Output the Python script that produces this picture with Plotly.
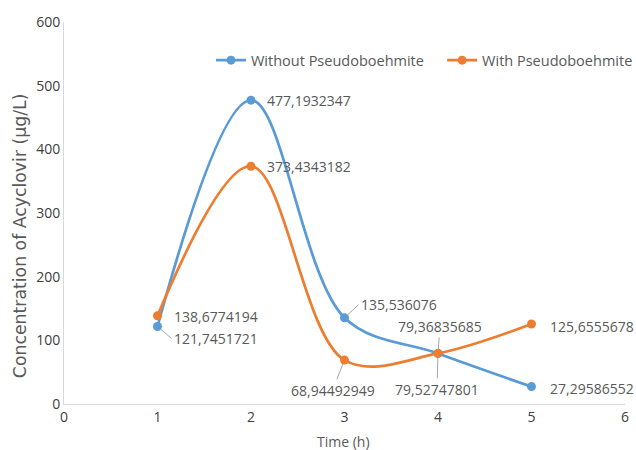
import plotly.graph_objects as go

time_h = [1, 2, 3, 4, 5]
without_pb = [121.7451721, 477.1932347, 135.536076, 79.36835685, 27.29586552]
with_pb = [138.6774194, 373.4343182, 68.94492949, 79.52747801, 125.6555678]
without_labels = ["121,7451721", "477,1932347", "135,536076", "79,36835685", "27,29586552"]
with_labels = ["138,6774194", "373,4343182", "68,94492949", "79,52747801", "125,6555678"]
x_ticks = [0, 1, 2, 3, 4, 5, 6]
y_ticks = [0, 100, 200, 300, 400, 500, 600]

BLUE = "#5B9BD5"
ORANGE = "#ED7D31"
TXT = "#595959"
FONT = "Open Sans"

fig = go.Figure()
fig.add_trace(go.Scatter(x=time_h, y=without_pb, mode="lines+markers", name="Without Pseudoboehmite",
                         line=dict(color=BLUE, width=2.75, shape="spline", smoothing=1.0),
                         marker=dict(size=9, color=BLUE), legend="legend"))
fig.add_trace(go.Scatter(x=time_h, y=with_pb, mode="lines+markers", name="With Pseudoboehmite",
                         line=dict(color=ORANGE, width=2.75, shape="spline", smoothing=1.0),
                         marker=dict(size=9, color=ORANGE), legend="legend2"))

# label placements (pixel offsets), per point
without_place = [(14, 12, True), (14, 0, False), (14, -13, True), (2, -27, True), (16, 2, False)]
with_place = [(14, 1, False), (14, 0, False), (-12, 30, True), (-1, 36, True), (16, 2, False)]

def add_labels(xs, ys, labels, places):
    for x, y, t, (dx, dy, arrow) in zip(xs, ys, labels, places):
        if arrow:
            xa = "left" if dx >= 10 else ("right" if dx <= -20 else "center")
            fig.add_annotation(x=x, y=y, text=t, showarrow=True, arrowhead=0, arrowwidth=1,
                               arrowcolor="#A6A6A6", ax=dx, ay=dy, xanchor=xa, standoff=4,
                               font=dict(family=FONT, size=14, color=TXT))
        else:
            fig.add_annotation(x=x, y=y, text=t, showarrow=False, xanchor="left",
                               xshift=dx, yshift=-dy,
                               font=dict(family=FONT, size=14, color=TXT))

add_labels(time_h, without_pb, without_labels, without_place)
add_labels(time_h, with_pb, with_labels, with_place)

# axis titles
fig.add_annotation(xref="paper", yref="paper", x=-0.078, y=0.44, text="Concentration of Acyclovir (μg/L)",
                   textangle=-90, showarrow=False, xanchor="center", yanchor="middle",
                   font=dict(family="DejaVu Sans", size=17.3, color=TXT))
fig.add_annotation(xref="paper", yref="paper", x=0.498, y=-0.099, text="Time (h)",
                   showarrow=False, xanchor="center", yanchor="middle",
                   font=dict(family=FONT, size=14, color=TXT))

leg_common = dict(orientation="h", y=0.90, xanchor="left", yanchor="middle",
                  font=dict(family=FONT, size=14.5, color=TXT), bgcolor="rgba(0,0,0,0)")

fig.update_layout(
    width=636, height=450,
    margin=dict(l=64, r=11, t=22, b=46, autoexpand=False),
    paper_bgcolor="white", plot_bgcolor="white",
    font=dict(family=FONT, size=13, color=TXT),
    showlegend=True,
    legend=dict(x=0.262, **leg_common),
    legend2=dict(x=0.674, **leg_common),
    xaxis=dict(range=[0, 6], tickvals=x_ticks, showgrid=False, zeroline=False, automargin=False,
               showline=True, linecolor="#D9D9D9", linewidth=1, ticks="",
               tickfont=dict(family=FONT, size=14, color="#404040")),
    yaxis=dict(range=[0, 600], tickvals=y_ticks, showgrid=False, zeroline=False, automargin=False,
               showline=True, linecolor="#D9D9D9", linewidth=1, ticks="",
               tickfont=dict(family=FONT, size=14, color="#404040")),
)

fig.write_html("out.html", config={"displayModeBar": False},
               post_script="document.body.style.margin='0';document.body.style.overflow='hidden';")
